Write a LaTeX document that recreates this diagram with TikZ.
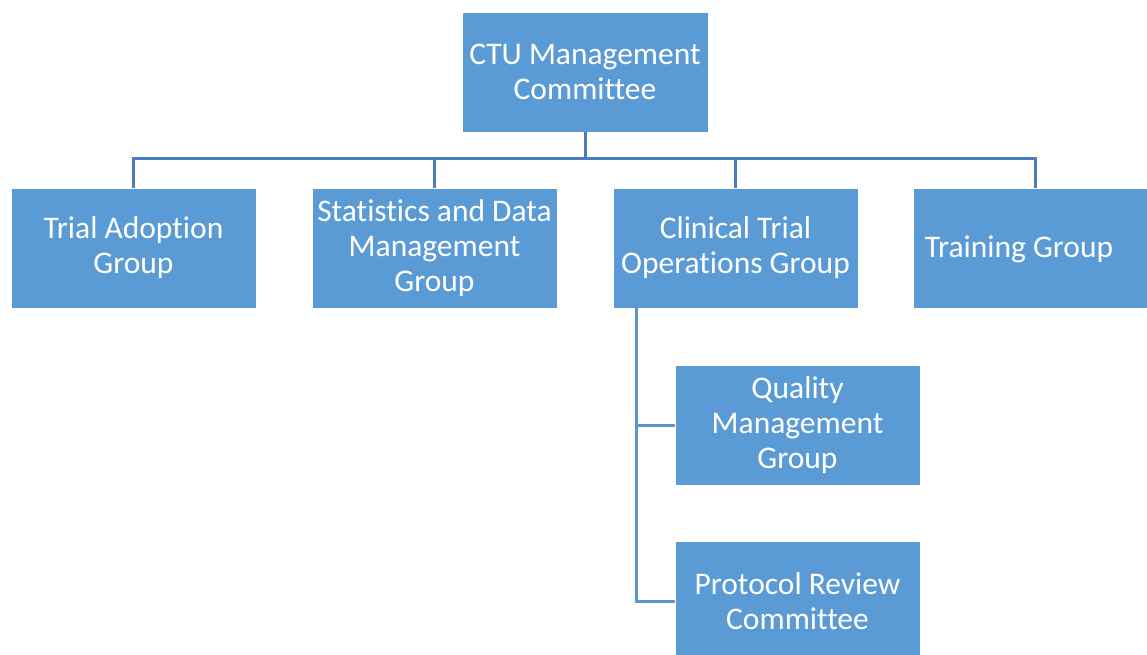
\documentclass[tikz,border=0pt]{standalone}
\usepackage{fontspec}
\setmainfont{Carlito}[RawFeature={-liga;-clig;-calt}]
\definecolor{boxblue}{HTML}{5B9BD5}
\definecolor{topline}{HTML}{4A7EBB}
\definecolor{subline}{HTML}{5B95CF}
\begin{document}
\begin{tikzpicture}[x=1pt,y=-1pt,
  orgbox/.style={fill=boxblue, draw=white, line width=0.6pt, minimum width=245pt, minimum height=120pt,
    inner sep=0pt, align=center, text=white, font=\fontsize{31.5}{35}\selectfont},
  blank/.style={inner sep=0pt, align=center, text=white, font=\fontsize{31.5}{35}\selectfont},
  tline/.style={draw=topline, line width=3pt},
  sline/.style={draw=subline, line width=3pt}]
\useasboundingbox (0,0) rectangle (1147,654);
\clip (0,0) rectangle (1147,654);
\node[orgbox, minimum width=246pt] (ctu) at (585,72) {CTU Management\\Committee};
\node[orgbox] (tag) at (133.5,248) {Trial Adoption\\Group};
\node[orgbox] (sdm) at (434.5,248) {Statistics and Data\\Management\\Group};
\node[orgbox] (cto) at (735.5,248) {Clinical Trial\\Operations Group};
\node[orgbox] (trg) at (1035.5,248) {};
\node[blank] (trgt) at (1019,249) {Training Group};
\node[orgbox] (qmg) at (797.5,425) {Quality\\Management\\Group};
\node[orgbox] (prc) at (797.5,601) {Protocol Review\\Committee};
\coordinate (bus) at (585,158);
\draw[tline] (ctu.south) -- (bus);
\draw[tline, line cap=rect] (bus -| tag.north) -- (bus -| trg.north);
\draw[tline] (bus -| tag.north) -- (tag.north);
\draw[tline] (bus -| sdm.north) -- (sdm.north);
\draw[tline] (bus -| cto.north) -- (cto.north);
\draw[tline] (bus -| trg.north) -- (trg.north);
\coordinate (trunk) at ([yshift=4pt]cto.south -| 636,0);
\draw[sline] (trunk) |- (prc.west);
\draw[sline] (trunk |- qmg.west) -- (qmg.west);
\end{tikzpicture}
\end{document}
